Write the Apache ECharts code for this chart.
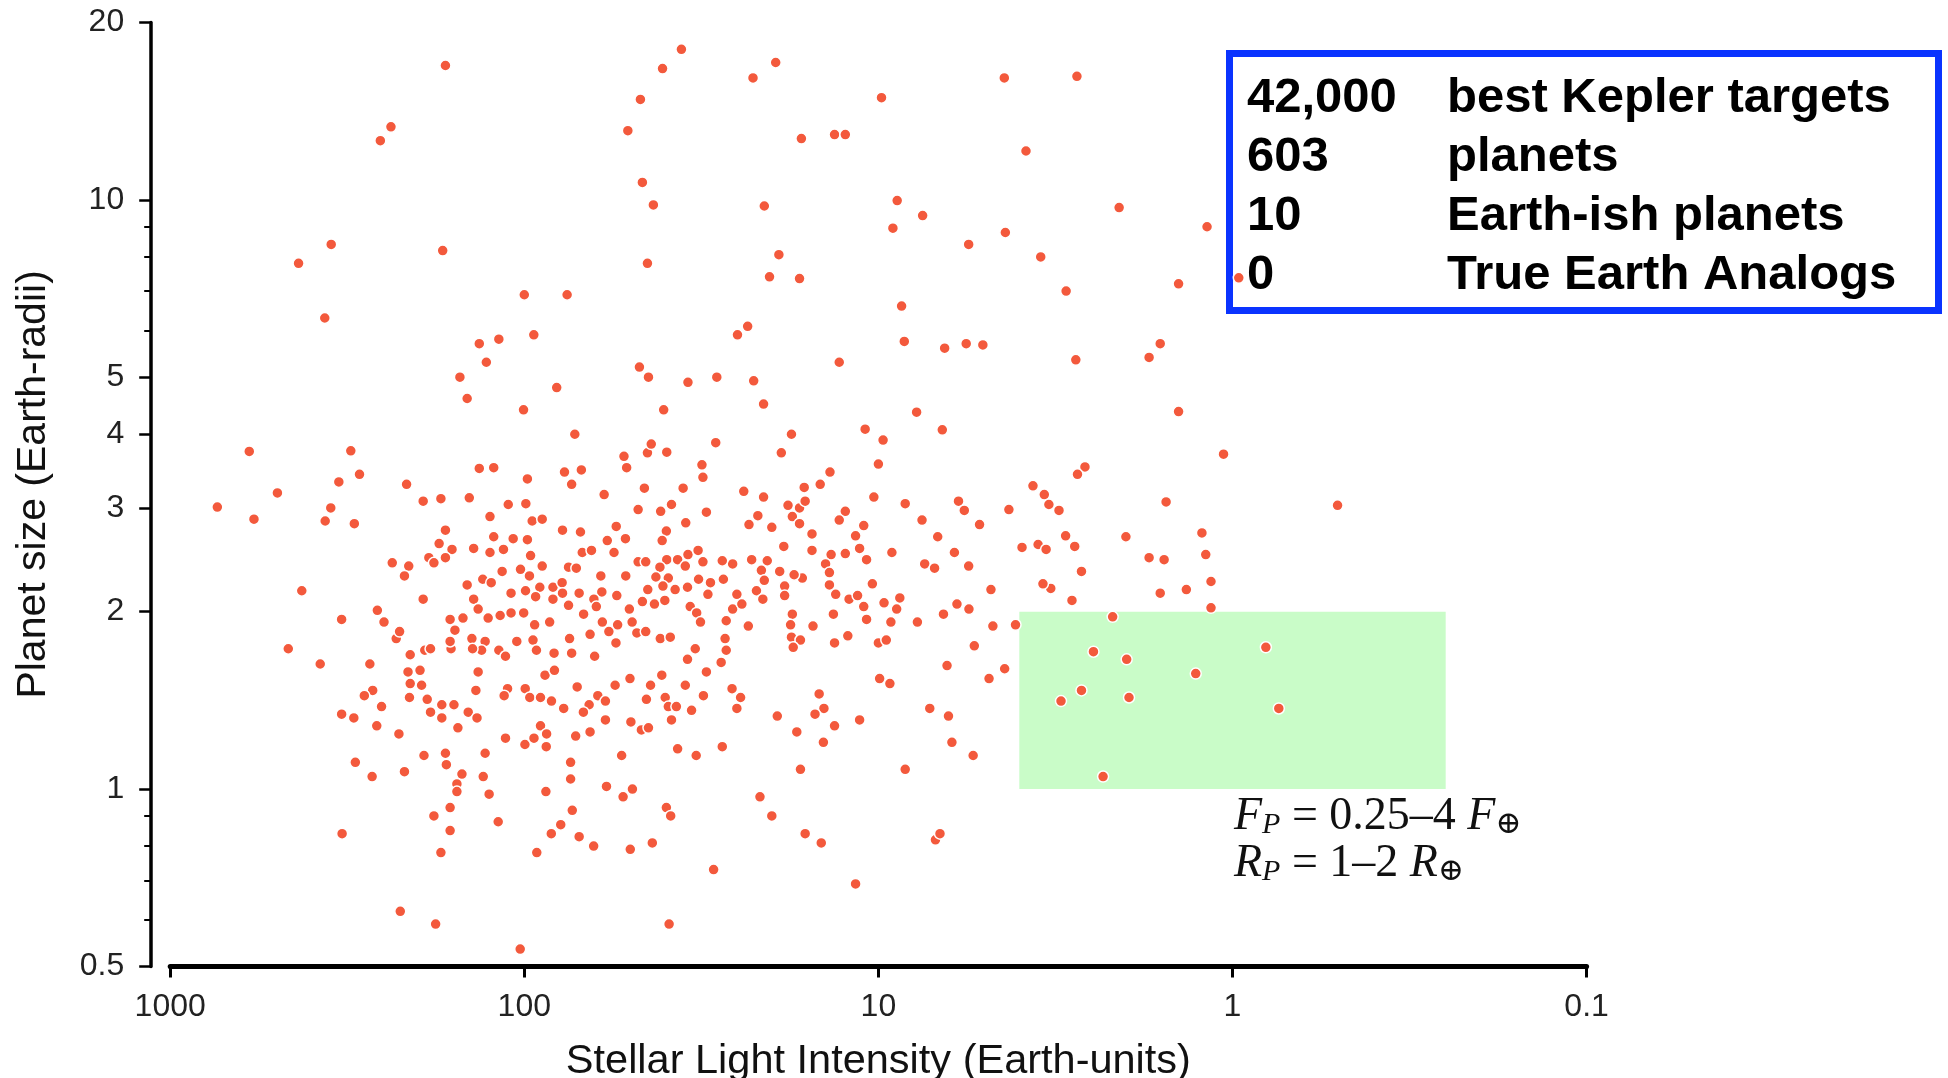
<!DOCTYPE html>
<html>
<head>
<meta charset="utf-8">
<script src="https://cdn.jsdelivr.net/npm/echarts@6/dist/echarts.min.js"></script>
<style>
  html, body { margin: 0; padding: 0; background: #ffffff; }
  #chart { width: 1948px; height: 1078px; }
</style>
</head>
<body>
<div id="chart"></div>
<script>
// Kepler planet candidates: [stellar light intensity (Earth units), planet radius (Earth radii)]
const giantPlanets = [
  [167,16.9],[238,13.3],[255,12.6],[36,18.0],[40.7,16.7],[47,14.8],[51,13.1],[46.4,10.7],[43.2,9.8],[351,8.4],
  [434,7.8],[170,8.2],[44.9,7.8],[366,6.3],[100,6.9],[75.7,6.9],[94,5.9],[134,5.7],[118,5.8],[128,5.3],
  [152,5.0],[145,4.6],[100.5,4.4],[81,4.8],[47.3,5.2],[44.6,5.0],[34.5,4.9],[28.6,5.0],[25,5.9],[40.4,4.4],
  [72,4.0],[28.8,3.87],[44.9,3.72],[43.8,3.85],[39.6,3.73],[52.3,3.67],[598,3.74],[309,3.75],
  [22.6,16.1],[19.5,17.1],[4.41,16.1],[2.75,16.2],[9.8,14.9],[16.5,12.7],[13.3,12.9],[12.4,12.9],[3.83,12.1],[21,9.76],
  [8.85,9.97],[7.5,9.4],[9.1,8.95],[5.56,8.4],[4.38,8.8],[2.09,9.7],[1.18,9.0],[19.1,8.07],[20.3,7.4],[16.7,7.35],
  [3.48,8.0],[2.95,7.0],[1.42,7.2],[0.96,7.37],[8.6,6.6],[23.4,6.1],[8.45,5.75],[6.5,5.6],[5.65,5.7],[5.07,5.67],
  [12.9,5.3],[2.77,5.35],[1.72,5.4],[1.6,5.7],[22.5,4.93],[21.1,4.5],[7.8,4.36],[1.42,4.37],[17.6,4.0],[10.9,4.08],
  [9.7,3.91],[6.6,4.07],[18.8,3.72],[10,3.56],[1.06,3.7]
];

const hotPlanetsOuter = [
  [736,3.01],[580,2.87],[498,3.18],[334,3.32],[292,3.42],[215,3.29],[193,3.08],[172,3.11],[352,3.0],[365,2.85],
  [302,2.82],[167,2.75],[174,2.61],[160,2.55],[167,2.47],[186,2.47],[180,2.42],[236,2.42],[212,2.39],[218,2.3],
  [425,2.17],[193,2.1],[260,2.01],[328,1.94],[249,1.92],[230,1.8],[225,1.85],[162,1.94],[157,1.86],[161,1.73],
  [162,1.78],[464,1.73],[377,1.63],[273,1.63],[210,1.69],[191,1.72],[184,1.73],[213,1.58],[197,1.59],[210,1.51],
  [195,1.5],[268,1.47],[283,1.44],[253,1.38],[211,1.43],[188,1.42],[171,1.39],[158,1.39],[184,1.35],[328,1.34],
  [303,1.32],[171,1.32]
];

const hotPlanetsCore = [
  [134,3.5],[122,3.51],[98,3.36],[77,3.45],[69,3.48],[73.5,3.29],[51.4,3.51],[31.5,3.55],[31.3,3.38],[35.6,3.24],
  [143,3.12],[111,3.04],[99,3.05],[59.5,3.16],[45.8,3.24],[47.7,2.98],[41.2,2.96],[38.4,3.04],[30.6,2.95],
  [125,2.9],[95,2.85],[89,2.87],[78,2.75],[69.4,2.73],[55,2.79],[58.3,2.64],[51.8,2.66],[39.7,2.74],[40.8,2.64],
  [35,2.83],[122,2.68],[107.5,2.66],[98,2.65],
  [139,2.56],[125,2.52],[114.5,2.55],[96,2.49],[68.6,2.52],[64.6,2.54],[55.8,2.52],[89,2.39],[75,2.38],[71.3,2.37],
  [102.5,2.36],[115.5,2.34],[47.7,2.43],[39.6,2.45],[36.9,2.45],[34.5,2.5],[32.3,2.54],[41.4,2.38],[35.1,2.39],
  [31.3,2.43],[25.8,2.41],[45.4,2.43],[27.6,2.44],
  [145,2.22],[131,2.27],[96.7,2.3],[83,2.2],[78.2,2.24],[78,2.15],[70,2.15],[60.8,2.3],[51.7,2.3],[60.4,2.16],
  [54.8,2.13],[44.8,2.18],[42.5,2.29],[39.2,2.28],[40.6,2.21],[37.5,2.18],[34.6,2.2],[32.2,2.27],[29.8,2.24],
  [27.4,2.27],[25.1,2.14],[109,2.15],[99.2,2.17],[90.4,2.2],[124,2.24],
  [139,2.1],[135,2.02],[92.9,2.12],[83,2.1],[75,2.05],[63.6,2.1],[62.6,2.04],[50.5,2.02],[46.4,2.08],[42.9,2.06],
  [40.1,2.09],[34,2.04],[30.3,2.14],[25.8,2.02],[149,1.95],[126.5,1.95],[117,1.97],[109,1.99],[100.4,1.99],[68,1.98],
  [32.6,1.99],[26.9,1.93],
  [93.5,1.9],[84.8,1.92],[60.2,1.92],[54.5,1.9],[49.6,1.92],[57.7,1.85],[48.1,1.84],[45.4,1.85],[41.3,1.8],[38.7,1.81],
  [31.8,1.92],[140.6,1.8],[105,1.78],[94.5,1.79],[74.5,1.8],[65.2,1.83],[55.1,1.77],[27.1,1.8],[129,1.78],
  [132,1.72],[118,1.72],[92.4,1.72],[82.4,1.7],[73.5,1.7],[63.3,1.68],[32.9,1.73],[34.6,1.66],[26.9,1.72],[27.8,1.64],
  [135,1.58],[87.4,1.56],[82.2,1.59],[40.9,1.56],[30.6,1.58],[113,1.68],[140,1.73],
  [50.3,1.54],[55.4,1.5],[44,1.5],[35.1,1.5],[137,1.47],[111.5,1.48],[99.4,1.48],[70.9,1.49],[25.9,1.48],[96.5,1.43],
  [90,1.43],[83.8,1.41],[62,1.44],[45.2,1.42],[40,1.43],[31.2,1.44],[114,1.44],
  [65.6,1.39],[39.2,1.38],[33.7,1.36],[25.1,1.37],[77.4,1.37],[68.1,1.35],[38.4,1.31],[144,1.35],[136,1.32],[59,1.41],
  [37.2,1.38],[59,1.31],[50,1.3]
];

const warmPlanets = [
  [13.7,3.45],[24,3.2],[21.1,3.13],[16.2,3.25],[14.6,3.29],[10.3,3.13],[8.4,3.05],[5.94,3.08],[5.72,2.97],[4.28,2.98],
  [18,3.03],[16.7,3.0],[16.1,3.08],[17.5,2.9],[16.7,2.82],[21.9,2.91],[23.2,2.81],[20,2.78],[12.4,2.96],[12.9,2.86],
  [11,2.8],[11.6,2.69],[7.53,2.86],[6.8,2.68],[5.18,2.81],
  [15.4,2.71],[18.5,2.58],[15.4,2.54],[11.3,2.56],[12.4,2.51],[13.6,2.5],[10.8,2.45],[9.16,2.52],[6.1,2.52],[7.4,2.41],
  [6.94,2.37],[5.56,2.39],[22.8,2.45],[20.6,2.44],[21.4,2.35],[19,2.34],[14.1,2.41],[13.75,2.33],[16.4,2.28],[17.3,2.31],
  [18.4,2.21],[18.4,2.13],[21,2.26],[22.1,2.17],[21.2,2.1],[24.3,2.06],[13.75,2.22],[13.2,2.14],[12.1,2.1],[11.45,2.13],
  [11,2.04],[10.4,2.23],[9.64,2.07],[8.7,2.11],[8.88,2.02],[10.8,1.94],[13.4,1.98],[15.3,1.89],[17.5,1.98],[17.7,1.9],
  [4.81,2.18],[5.55,2.02],[6.0,2.06],[6.55,1.98],[7.76,1.92],[9.22,1.92],[4.75,1.89],[4.1,1.9],[23.3,1.89],
  [17.6,1.81],[16.6,1.79],[17.4,1.74],[13.3,1.77],[12.2,1.82],[10,1.77],[9.5,1.79],[5.36,1.75],[6.4,1.62],[4.87,1.54],
  [4.4,1.6],[9.92,1.54],[9.28,1.51],
  [24.5,1.43],[14.7,1.45],[14.25,1.37],[15.1,1.34],[19.3,1.33],[11.3,1.31],[7.16,1.37],[6.34,1.33]
];

const temperatePlanets = [
  [2.61,3.52],[2.74,3.42],[3.66,3.27],[3.4,3.16],[3.3,3.04],[3.09,2.97],[1.54,3.07],[0.505,3.03],[2.96,2.69],[2.0,2.68],
  [1.22,2.72],[3.93,2.57],[3.54,2.6],[3.36,2.55],[2.79,2.58],[1.72,2.47],[1.56,2.45],[1.19,2.5],[2.67,2.34],[3.26,2.19],
  [3.43,2.23],[2.84,2.09],[1.6,2.15],[1.35,2.18],[1.15,2.25],[1.15,2.03]
];

const earthishPlanets = [
  [2.18,1.96],[2.47,1.71],[1.99,1.66],[1.27,1.57],[0.805,1.74],[2.67,1.47],[3.05,1.41],[1.96,1.43],[0.74,1.37],[2.32,1.05]
];

const smallPlanets = [
  [261,1.28],[226,1.24],[167,1.15],[166,1.1],[192,1.14],[300,1.11],[218,1.07],[269,1.05],[162,0.93],[180,0.9],
  [162,0.85],[172,0.78],[327,0.84],[224,0.62],[178,0.59],
  [154,1.27],[90,1.28],[113,1.22],[99.6,1.19],[93.9,1.22],[86.7,1.18],[86.5,1.24],[71.6,1.23],[65.2,1.25],[46.7,1.26],
  [44.6,1.27],[74,1.11],[53.1,1.14],[36.9,1.17],[32.7,1.14],[27.6,1.18],[129,1.15],[150,1.06],[155,1.02],[155,0.99],
  [130.6,1.05],[125.7,0.98],[118.5,0.88],[86.9,0.99],[74,1.04],[73.2,0.92],[58.6,1.01],[52.6,0.97],[49.5,1.0],[78.9,0.87],
  [83.9,0.84],[70,0.83],[63.7,0.8],[50.2,0.79],[43.5,0.81],[39.7,0.93],[38.6,0.9],[92.2,0.78],[29.2,0.73],[39,0.59],
  [102.7,0.535],
  [17,1.25],[13.3,1.28],[14.3,1.2],[16.6,1.08],[21.6,0.97],[20,0.9],[16.1,0.84],[14.5,0.81],[11.6,0.69],[8.4,1.08],
  [6.2,1.2],[5.4,1.14],[6.9,0.82],[6.7,0.84]
];

// Axis ticks
const fluxTicks = [1000, 100, 10, 1, 0.1];
const radiusTicks = [0.5, 1, 2, 3, 4, 5, 10, 20];
const radiusMinorTicks = [0.6, 0.7, 0.8, 0.9, 6, 7, 8, 9];

// Earth-ish window: flux 0.25-4, radius 1-2
const hzFlux = [4, 0.25];
const hzRadius = [1, 2];

// Summary box
const summaryCounts = ['42,000', '603', '10', '0'];
const summaryLabels = ['best Kepler targets', 'planets', 'Earth-ish planets', 'True Earth Analogs'];

const allPlanets = [].concat(giantPlanets, hotPlanetsOuter, hotPlanetsCore, warmPlanets,
  temperatePlanets, earthishPlanets, smallPlanets);

const fmt = v => String(+Number(v).toPrecision(3));
const sansFont = '"Liberation Sans", Arial, Helvetica, sans-serif';
const serifFont = '"Liberation Serif", "Times New Roman", serif';

const chart = echarts.init(document.getElementById('chart'), null, { renderer: 'canvas' });

const summaryGraphics = [{
  type: 'rect', z: 0,
  shape: { x: 1229.5, y: 53.5, width: 709, height: 257 },
  style: { fill: '#ffffff', stroke: '#0a33ff', lineWidth: 7 }
}];
summaryCounts.forEach((c, i) => {
  const y = 98 + i * 59.2;
  summaryGraphics.push({
    type: 'text', z: 100, x: 1247, y: y,
    style: { text: c, font: 'bold 49px ' + sansFont, fill: '#000',
      align: 'left', verticalAlign: 'middle', textAlign: 'left', textVerticalAlign: 'middle' }
  });
  summaryGraphics.push({
    type: 'text', z: 100, x: 1447, y: y,
    style: { text: summaryLabels[i], font: 'bold 49px ' + sansFont, fill: '#000',
      align: 'left', verticalAlign: 'middle', textAlign: 'left', textVerticalAlign: 'middle' }
  });
});

const annotationText =
  '{i|F}{s|P}{n| = ' + hzFlux[1] + '\u2013' + hzFlux[0] + ' }{i|F}{o|\u2295}\n' +
  '{i|R}{s|P}{n| = ' + hzRadius[0] + '\u2013' + hzRadius[1] + ' }{i|R}{o|\u2295}';

const option = {
  animation: false,
  backgroundColor: '#ffffff',
  grid: { left: 170.2, top: 22.4, width: 1416.4, height: 944, containLabel: false, outerBoundsMode: 'none' },
  xAxis: {
    type: 'log', logBase: 10, min: 0.1, max: 1000, inverse: true,
    name: 'Stellar Light Intensity (Earth-units)', nameLocation: 'middle', nameGap: 74,
    nameMoveOverlap: false,
    nameTextStyle: { fontSize: 41.5, color: '#111', fontFamily: sansFont },
    axisLine: { show: true, onZero: false, lineStyle: { color: '#000', width: 5 } },
    axisTick: { show: true, inside: false, length: 11, customValues: fluxTicks,
      lineStyle: { color: '#000', width: 3 } },
    axisLabel: { show: true, customValues: fluxTicks, margin: 25, fontSize: 32, color: '#222',
      fontFamily: sansFont, formatter: fmt },
    splitLine: { show: false }, minorTick: { show: false }, minorSplitLine: { show: false }
  },
  yAxis: [{
    type: 'log', logBase: 10, min: 0.5, max: 20, position: 'left', offset: 19,
    name: 'Planet size (Earth-radii)', nameLocation: 'middle', nameGap: 97, nameRotate: 90,
    nameMoveOverlap: false,
    nameTextStyle: { fontSize: 41, color: '#111', fontFamily: sansFont, padding: [0, 0, 0, 20] },
    axisLine: { show: true, onZero: false, lineStyle: { color: '#000', width: 3.5 } },
    axisTick: { show: true, inside: false, length: 12, customValues: radiusTicks,
      lineStyle: { color: '#000', width: 2.5 } },
    axisLabel: { show: true, customValues: radiusTicks, margin: 27, fontSize: 32, color: '#222',
      fontFamily: sansFont, formatter: fmt },
    splitLine: { show: false }, minorTick: { show: false }
  }, {
    type: 'log', logBase: 10, min: 0.5, max: 20, position: 'left', offset: 19,
    axisLine: { show: false },
    axisTick: { show: true, inside: false, length: 7, customValues: radiusMinorTicks,
      lineStyle: { color: '#000', width: 2 } },
    axisLabel: { show: false },
    splitLine: { show: false }, minorTick: { show: false }
  }],
  series: [{
    type: 'scatter', name: 'Earth-ish window', data: [], z: 1, silent: true,
    markArea: {
      silent: true,
      itemStyle: { color: '#c9fcc8', opacity: 1 },
      data: [[{ coord: [hzFlux[0], hzRadius[0]] }, { coord: [hzFlux[1], hzRadius[1]] }]]
    }
  }, {
    type: 'scatter', name: 'planets', data: allPlanets, z: 3, silent: true,
    symbol: 'circle', symbolSize: 11,
    itemStyle: { color: '#f3593c', borderColor: '#ffffff', borderWidth: 1.5, opacity: 1 }
  }],
  graphic: summaryGraphics.concat([{
    type: 'text', z: 100, x: 1234, y: 793,
    style: {
      text: annotationText,
      fill: '#111',
      rich: {
        i: { fontFamily: serifFont, fontStyle: 'italic', fontSize: 46, lineHeight: 47, verticalAlign: 'middle', fill: '#111' },
        n: { fontFamily: serifFont, fontSize: 46, lineHeight: 47, verticalAlign: 'middle', fill: '#111' },
        s: { fontFamily: serifFont, fontStyle: 'italic', fontSize: 30, lineHeight: 20, verticalAlign: 'bottom', fill: '#111' },
        o: { fontFamily: '"DejaVu Serif", serif', fontSize: 31, lineHeight: 22, verticalAlign: 'bottom', fill: '#111' }
      }
    }
  }])
};

chart.setOption(option);
</script>
</body>
</html>
